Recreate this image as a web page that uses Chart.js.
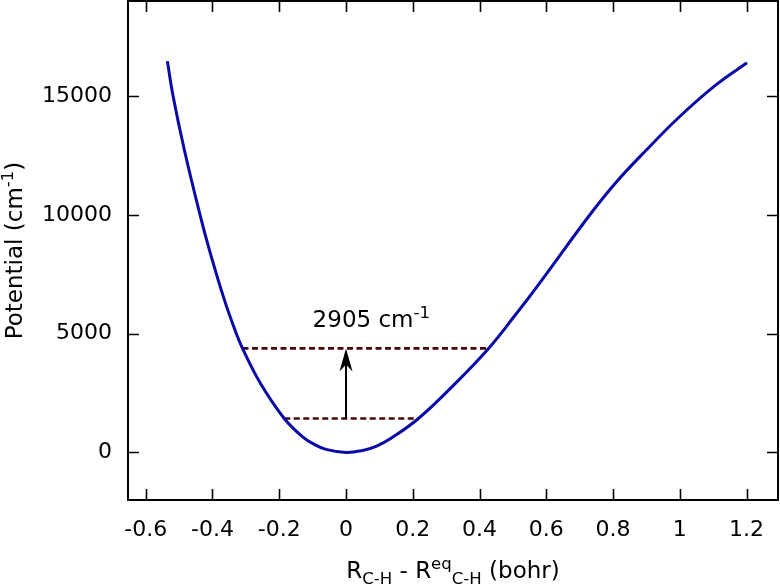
<!DOCTYPE html>
<html>
<head>
<meta charset="utf-8">
<script src="https://cdn.jsdelivr.net/npm/chart.js@4"></script>
<style>
  body { margin: 0; background: #fff; }
  #wrap { width: 780px; height: 584px; }
</style>
</head>
<body>
<div id="wrap"><canvas id="pes"></canvas></div>
<script>
// C-H stretch potential (bohr, cm-1)
const rDisp = [-0.535, -0.518, -0.484, -0.437, -0.409, -0.364, -0.329, -0.310, -0.256, -0.185, -0.130, -0.095, -0.060, 0,
               0.050, 0.090, 0.135, 0.217, 0.327, 0.427, 0.503, 0.579, 0.726, 0.806, 0.899, 0.999, 1.109, 1.201];
const potential = [16470, 15000, 12720, 9990, 8515, 6410, 5020, 4380, 2900, 1430, 657, 340, 130, 0,
                   85, 260, 600, 1430, 2900, 4380, 5710, 7110, 9920, 11320, 12720, 14130, 15480, 16400];

const xTicks = [-0.6, -0.4, -0.2, 0, 0.2, 0.4, 0.6, 0.8, 1, 1.2];
const yTicks = [0, 5000, 10000, 15000];

// v=0 and v=1 levels with their turning points
const levelE = [1430, 4380];
const levelLeft = [-0.185, -0.310];
const levelRight = [0.217, 0.427];

const FONT = '"DejaVu Sans", sans-serif';
const FS = 23;      // titles and annotation
const TICK_FS = 22;

// draw text with sub/superscripts, parts = [[text, 'sub'|'sup'|null], ...]
function richText(ctx, parts, x, y, align) {
  let w = 0;
  parts.forEach(p => {
    ctx.font = (p[1] ? FS * 0.72 : FS) + 'px ' + FONT;
    w += ctx.measureText(p[0]).width;
  });
  let xx = align === 'center' ? x - w / 2 : x;
  ctx.textAlign = 'left';
  ctx.textBaseline = 'alphabetic';
  parts.forEach(p => {
    ctx.font = (p[1] ? FS * 0.72 : FS) + 'px ' + FONT;
    let dy = 0;
    if (p[1] === 'sub') dy = FS * 0.27;
    if (p[1] === 'sup') dy = -FS * 0.4;
    ctx.fillText(p[0], xx, y + dy);
    xx += ctx.measureText(p[0]).width;
  });
}

const frameAndText = {
  id: 'frameAndText',
  afterDatasetsDraw(chart) {
    const ctx = chart.ctx;
    const a = chart.chartArea;
    const x = chart.scales.x, y = chart.scales.y;
    ctx.save();
    ctx.strokeStyle = '#000';
    ctx.fillStyle = '#000';

    // arrow between the two levels
    const ax = x.getPixelForValue(0);
    const y0 = y.getPixelForValue(levelE[0]);
    const y1 = y.getPixelForValue(levelE[1]);
    ctx.lineWidth = 2;
    ctx.beginPath();
    ctx.moveTo(ax, y0);
    ctx.lineTo(ax, y1 + 12);
    ctx.stroke();
    ctx.beginPath();
    ctx.moveTo(ax, y1);
    ctx.lineTo(ax - 6.5, y1 + 23);
    ctx.lineTo(ax, y1 + 16);
    ctx.lineTo(ax + 6.5, y1 + 23);
    ctx.closePath();
    ctx.fill();

    richText(ctx, [['2905 cm', null], ['-1', 'sup']], x.getPixelForValue(-0.1), y.getPixelForValue(5290), 'left');

    // inward ticks on all four sides
    ctx.lineWidth = 1.6;
    const tl = 11;
    ctx.beginPath();
    x.ticks.forEach(t => {
      const px = Math.round(x.getPixelForValue(t.value)) + 0.5;
      ctx.moveTo(px, a.bottom); ctx.lineTo(px, a.bottom - tl);
      ctx.moveTo(px, a.top); ctx.lineTo(px, a.top + tl);
    });
    y.ticks.forEach(t => {
      const py = Math.round(y.getPixelForValue(t.value)) + 0.5;
      ctx.moveTo(a.left, py); ctx.lineTo(a.left + tl, py);
      ctx.moveTo(a.right, py); ctx.lineTo(a.right - tl, py);
    });
    ctx.stroke();
    ctx.lineWidth = 2;
    ctx.strokeRect(a.left, a.top, a.right - a.left, a.bottom - a.top);

    // axis titles
    richText(ctx, [['R', null], ['C-H', 'sub'], [' - R', null], ['eq', 'sup'], ['C-H', 'sub'], [' (bohr)', null]],
             (a.left + a.right) / 2, 578, 'center');
    ctx.translate(22, (a.top + a.bottom) / 2);
    ctx.rotate(-Math.PI / 2);
    richText(ctx, [['Potential (cm', null], ['-1', 'sup'], [')', null]], 0, 0, 'center');
    ctx.restore();
  }
};

const levelSets = levelE.map((e, i) => ({
  data: [{x: levelLeft[i], y: e}, {x: levelRight[i], y: e}],
  showLine: true,
  borderColor: '#4a0606',
  borderWidth: 2.7,
  borderDash: [6, 3.5],
  pointRadius: 0
}));

new Chart(document.getElementById('pes'), {
  type: 'scatter',
  data: {
    datasets: [{
      data: rDisp.map((r, i) => ({x: r, y: potential[i]})),
      showLine: true,
      borderColor: '#0a0aa8',
      borderWidth: 3,
      pointRadius: 0,
      tension: 0.4
    }].concat(levelSets)
  },
  options: {
    responsive: true,
    maintainAspectRatio: false,
    animation: false,
    layout: { padding: { top: 1, right: 2, left: 0, bottom: 0 } },
    plugins: { legend: { display: false }, tooltip: { enabled: false } },
    scales: {
      x: {
        type: 'linear',
        min: -0.653,
        max: 1.294,
        grid: { display: false, drawTicks: false },
        border: { display: false },
        afterBuildTicks: s => { s.ticks = xTicks.map(v => ({value: v})); },
        afterFit: s => { s.height = 84; s.paddingLeft = 0; s.paddingRight = 0; },
        ticks: {
          padding: 17,
          color: '#000',
          font: { family: FONT, size: TICK_FS },
          callback: v => String(v)
        }
      },
      y: {
        min: -2000,
        max: 19000,
        grid: { display: false, drawTicks: false },
        border: { display: false },
        afterBuildTicks: s => { s.ticks = yTicks.map(v => ({value: v})); },
        afterFit: s => { s.width = 128; s.paddingTop = 0; s.paddingBottom = 0; },
        ticks: {
          padding: 16,
          color: '#000',
          font: { family: FONT, size: TICK_FS },
          callback: v => String(v)
        }
      }
    }
  },
  plugins: [frameAndText]
});
</script>
</body>
</html>
